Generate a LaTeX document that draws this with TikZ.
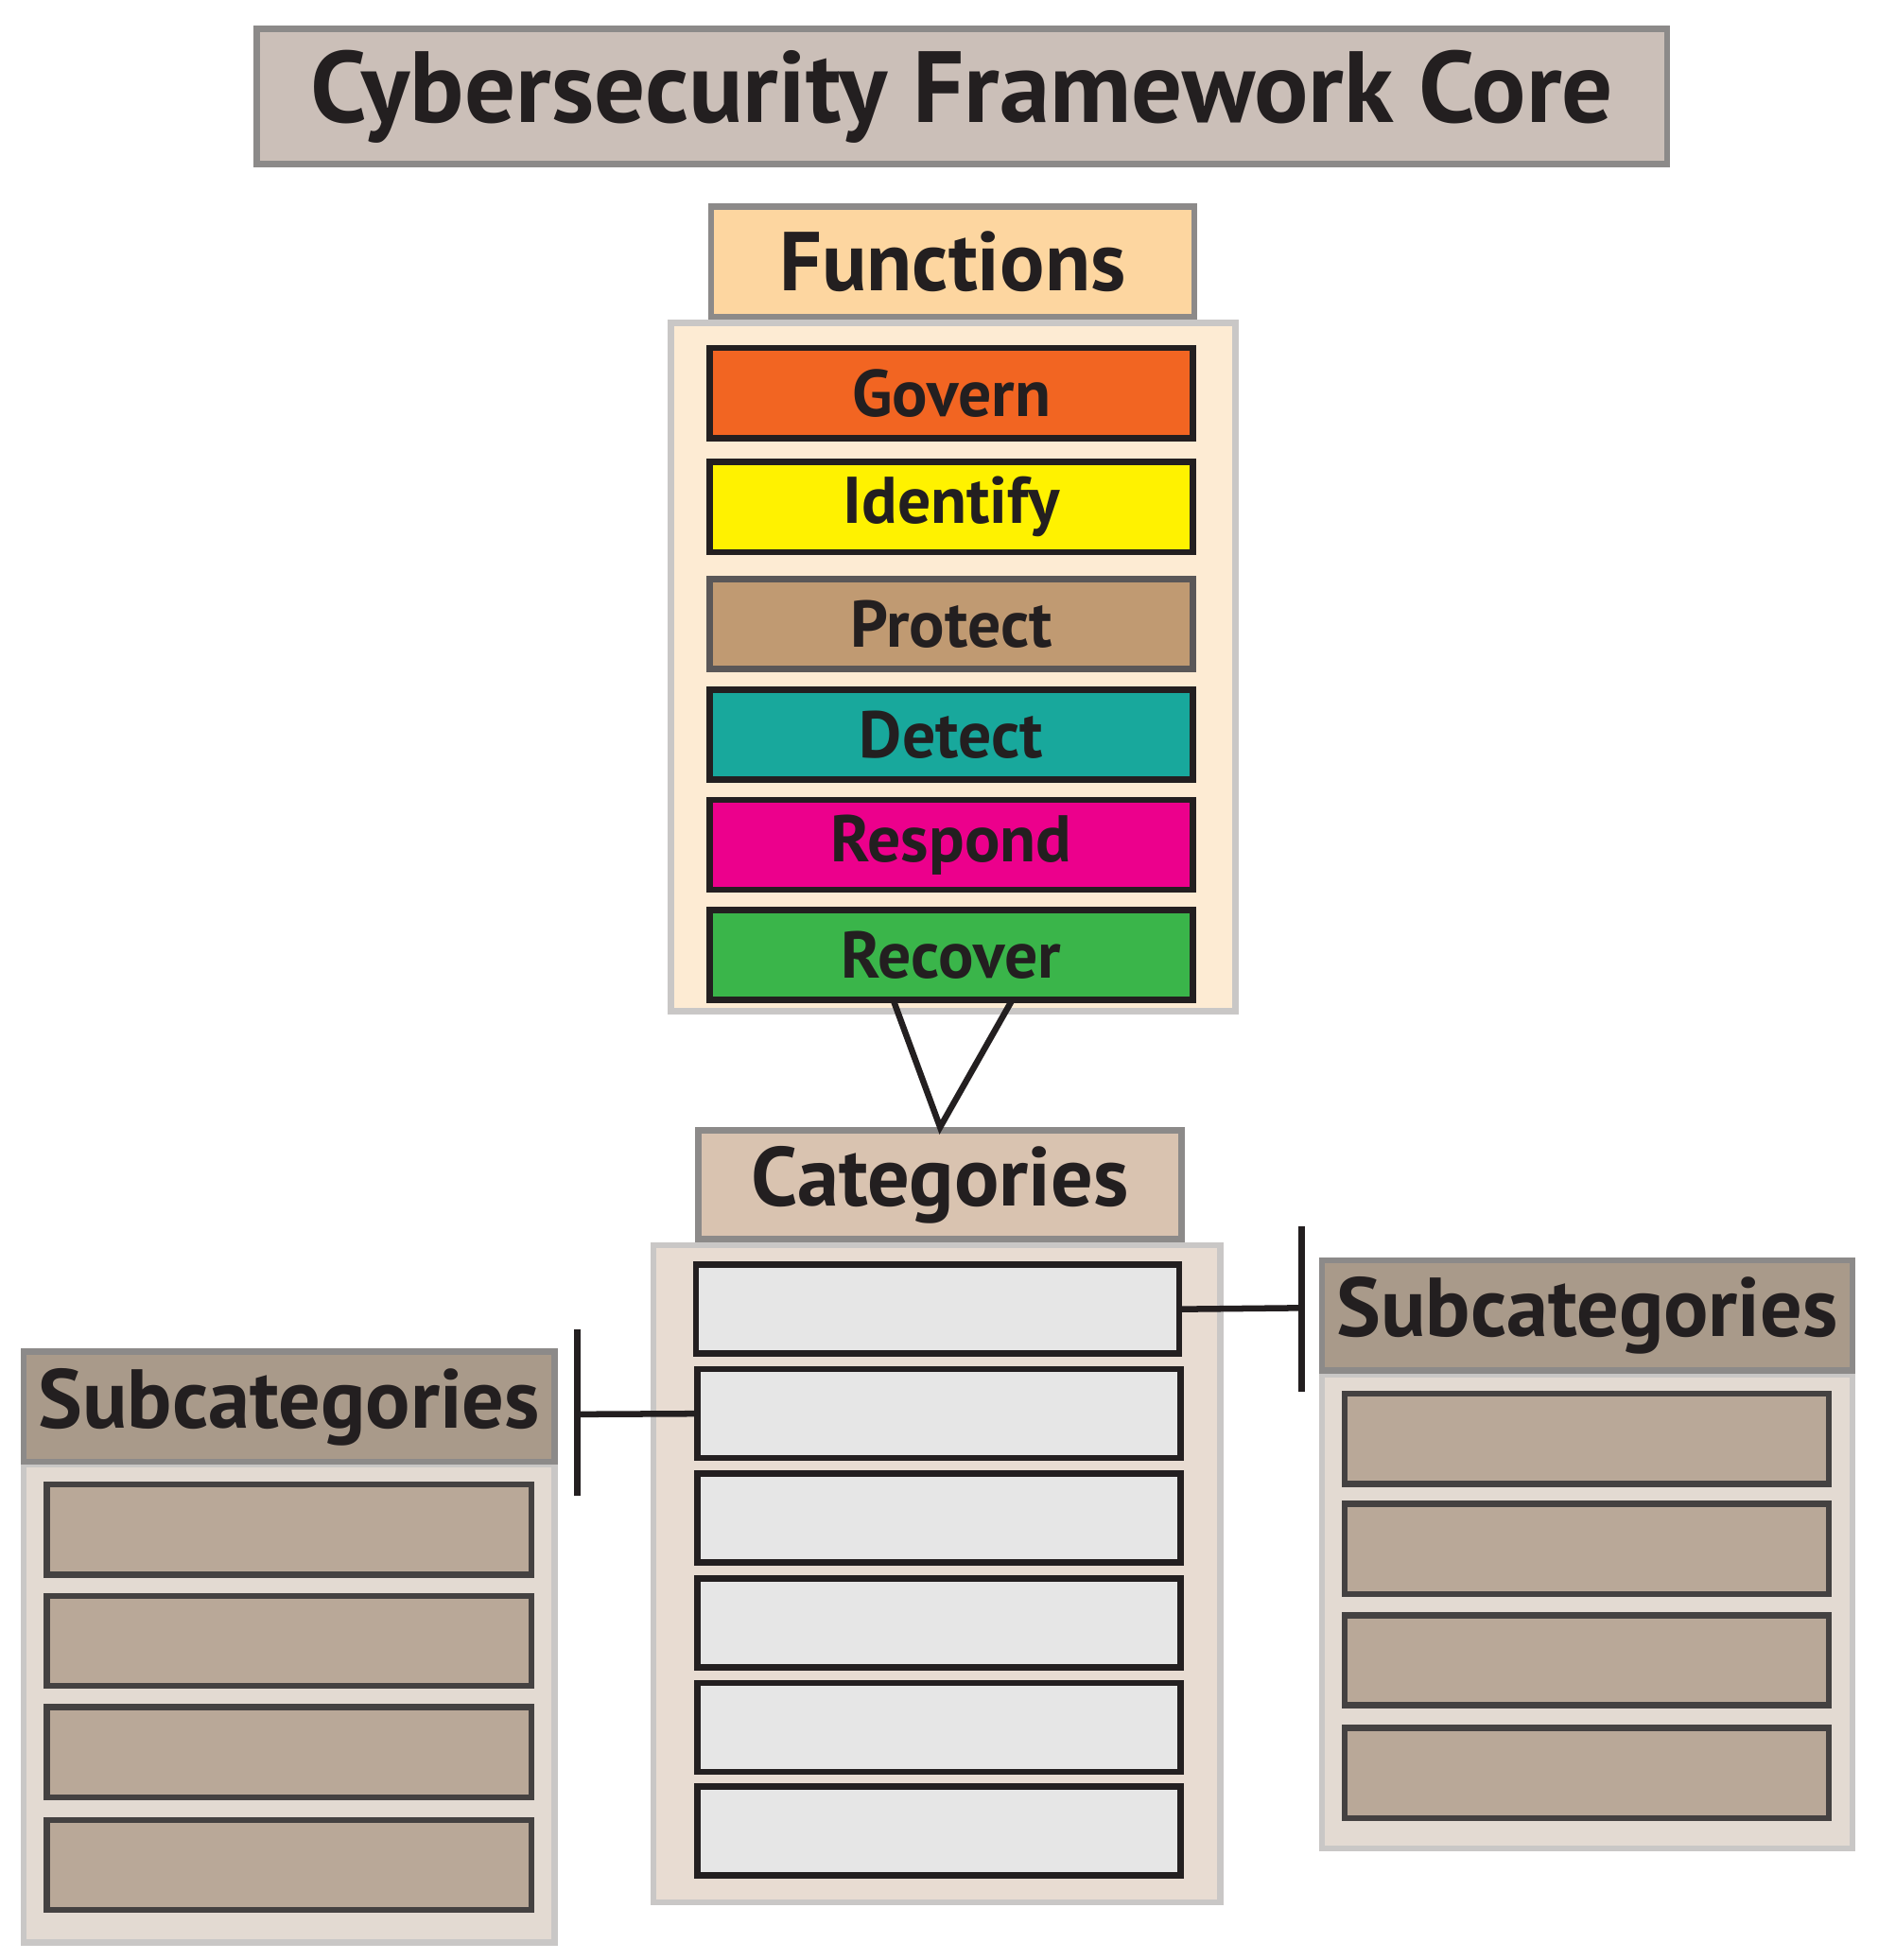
\documentclass[tikz,border=0pt]{standalone}
\usepackage{fontspec}
\setmainfont{PT Sans}
\definecolor{ink}{HTML}{231F20}
\definecolor{titlefill}{HTML}{CBBFB8}
\definecolor{graybd}{HTML}{8C8A89}
\definecolor{lightbd}{HTML}{C9C7C6}
\definecolor{funchead}{HTML}{FDD6A0}
\definecolor{funcbg}{HTML}{FDEBD3}
\definecolor{cgov}{HTML}{F26522}
\definecolor{cid}{HTML}{FFF200}
\definecolor{cpro}{HTML}{C09A72}
\definecolor{cdet}{HTML}{18A89C}
\definecolor{cres}{HTML}{EC008C}
\definecolor{crec}{HTML}{3AB54A}
\definecolor{cathead}{HTML}{D9C3B0}
\definecolor{catbg}{HTML}{E8DCD2}
\definecolor{catbox}{HTML}{E6E6E6}
\definecolor{subhead}{HTML}{A99A8A}
\definecolor{subbg}{HTML}{E3DAD2}
\definecolor{subbox}{HTML}{B9A898}
\begin{document}
\begin{tikzpicture}[x=0.02cm,y=-0.02cm,
  head/.style={draw=graybd,line width=2.8pt,inner sep=0pt,text=ink,font=\bfseries\fontsize{38}{40}\selectfont},
  cont/.style={draw=lightbd,line width=2.8pt,inner sep=0pt},
  fbox/.style={draw=ink,line width=2.8pt,inner sep=0pt,minimum width=7.72cm,minimum height=1.44cm,text=ink,font=\bfseries\fontsize{30}{32}\selectfont},
  cbox/.style={draw=ink,line width=2.8pt,fill=catbox,minimum width=7.72cm,minimum height=1.42cm},
  sbox/.style={draw=ink!85,line width=2.8pt,fill=subbox,minimum width=7.74cm,minimum height=1.44cm},
  conn/.style={draw=ink,line width=2.8pt}]
\useasboundingbox (0,0) rectangle (1500,1566);
% title
\node[head,fill=titlefill,minimum width=22.54cm,minimum height=2.16cm,font=\bfseries\fontsize{46}{48}\selectfont] (title) at (768.5,77) {Cybersecurity Framework Core};
% functions
\node[cont,fill=funcbg,minimum width=9.02cm,minimum height=11cm] (fcont) at (761.5,533) {};
\node[head,fill=funchead,minimum width=7.72cm,minimum height=1.76cm] (fhead) at (761,209) {Functions};
\node[fbox,fill=cgov] (gov) at (760,314) {Govern};
\node[fbox,fill=cid] (idf) at (760,405) {Identify};
\node[fbox,fill=cpro,draw=ink!75] (pro) at (760,498.5) {Protect};
\node[fbox,fill=cdet] (det) at (760,587) {Detect};
\node[fbox,fill=cres] (res) at (760,675) {Respond};
\node[fbox,fill=crec] (rec) at (760,763) {Recover};
% categories
\node[cont,fill=catbg,minimum width=9.06cm,minimum height=10.5cm] (ccont) at (748.5,1257.5) {};
\node[head,fill=cathead,minimum width=7.72cm,minimum height=1.74cm] (chead) at (751,946.5) {Categories};
\node[cbox] (c1) at (749,1046) {};
\node[cbox] (c2) at (750,1129.5) {};
\node[cbox] (c3) at (750,1213) {};
\node[cbox] (c4) at (750,1296.5) {};
\node[cbox] (c5) at (750,1380) {};
\node[cbox] (c6) at (750,1463) {};
% triangle
\coordinate (t1) at (714,800);
\coordinate (t2) at (808,800);
\draw[conn,line join=miter] (t1) -- (chead.north) -- (t2);
% right subcategories
\node[cont,fill=subbg,minimum width=8.48cm,minimum height=7.58cm] (rcont) at (1268,1287.5) {};
\node[head,fill=subhead,minimum width=8.48cm,minimum height=1.76cm] (rhead) at (1268,1051) {Subcategories};
\node[sbox] (r1) at (1267.5,1149.5) {};
\node[sbox] (r2) at (1267.5,1237.5) {};
\node[sbox] (r3) at (1267.5,1326.5) {};
\node[sbox] (r4) at (1267.5,1416.5) {};
% left subcategories
\node[cont,fill=subbg,minimum width=8.48cm,minimum height=7.64cm] (lcont) at (231,1361) {};
\node[head,fill=subhead,minimum width=8.48cm,minimum height=1.76cm] (lhead) at (231,1124) {Subcategories};
\node[sbox] (l1) at (231,1222) {};
\node[sbox] (l2) at (231,1311) {};
\node[sbox] (l3) at (231,1400) {};
\node[sbox] (l4) at (231,1490) {};
% connectors
\coordinate (rb) at (1040,1045);
\coordinate (rbt) at (1040,980);
\coordinate (rbb) at (1040,1112);
\draw[conn] (c1.east) -- (rb);
\draw[conn] (rbt) -- (rbb);
\coordinate (lb) at (461,1130);
\coordinate (lbt) at (461,1062);
\coordinate (lbb) at (461,1195);
\draw[conn] (c2.west) -- (lb);
\draw[conn] (lbt) -- (lbb);
\end{tikzpicture}
\end{document}
